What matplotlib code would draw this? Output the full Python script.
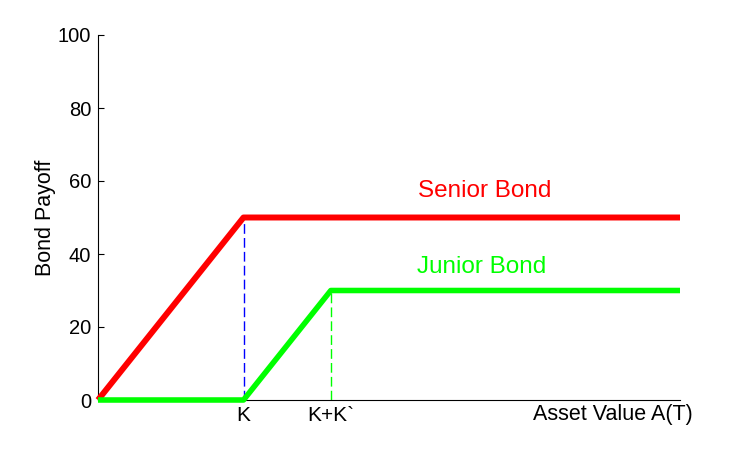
import matplotlib
matplotlib.use("Agg")
import matplotlib.pyplot as plt

plt.rcParams["font.family"] = ["Liberation Sans", "DejaVu Sans"]

# payoff data
K = 50
K2 = 30
asset_max = 200
senior_x = [0, K, asset_max]
senior_y = [0, 50, 50]
junior_x = [0, K, K + K2, asset_max]
junior_y = [0, 0, 30, 30]
xtick_vals = [K, K + K2]
xtick_labels = ["K", "K+K`"]
ytick_vals = [0, 20, 40, 60, 80, 100]

fig = plt.figure(figsize=(7.5, 4.5), dpi=100)
ax = fig.add_axes([98 / 750, 50 / 450, 582 / 750, 365 / 450])

ax.plot(senior_x, senior_y, color="#ff0000", lw=4.3, solid_capstyle="butt", zorder=3, clip_on=False)
ax.plot([K, K], [0, senior_y[1]], color="#0000ff", lw=1.0, ls=(0, (7, 3)), zorder=2)
ax.plot([K + K2, K + K2], [0, junior_y[2]], color="#00ff00", lw=1.0, ls=(0, (7, 3)), zorder=2)
ax.plot(junior_x, junior_y, color="#00ff00", lw=4.0, solid_capstyle="butt", zorder=4, clip_on=False)

ax.text(133, 57.3, "Senior Bond", color="#ff0000", fontsize=17.5, ha="center", va="center")
ax.text(132, 36.5, "Junior Bond", color="#00ff00", fontsize=17.5, ha="center", va="center")

ax.set_xlim(0, asset_max)
ax.set_ylim(0, 100)
ax.set_xticks(xtick_vals)
ax.set_xticklabels(xtick_labels, fontsize=15)
ax.set_yticks(ytick_vals)
ax.set_yticklabels([str(v) for v in ytick_vals], fontsize=14.5)
ax.tick_params(axis="x", length=0, pad=4)
ax.tick_params(axis="y", direction="in", length=4, width=0.8, pad=5)
ax.text(177, -1.0, "Asset Value A(T)", fontsize=15.5, ha="center", va="top")
ax.set_ylabel("Bond Payoff", fontsize=15.5, labelpad=1)

for side in ["top", "right"]:
    ax.spines[side].set_visible(False)
for side in ["left", "bottom"]:
    ax.spines[side].set_linewidth(0.8)

fig.savefig("out.png", dpi=100)
